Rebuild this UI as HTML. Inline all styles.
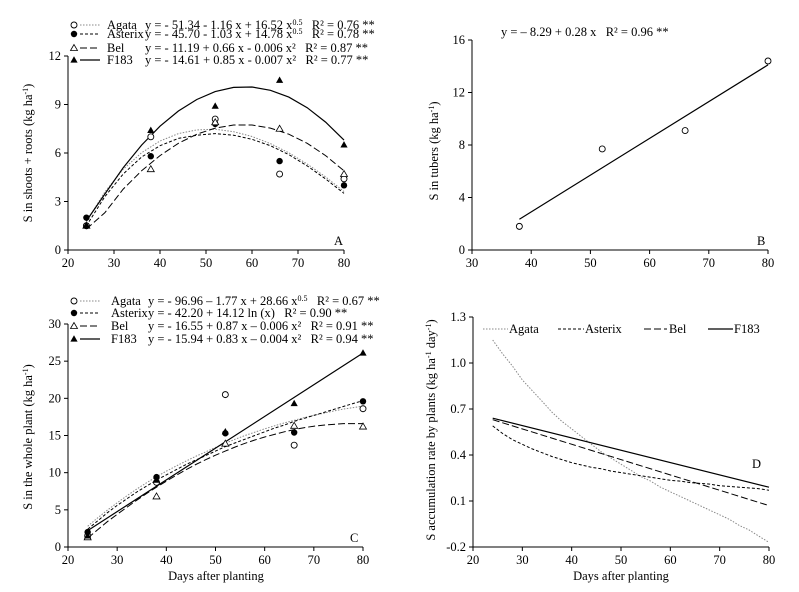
<!DOCTYPE html>
<html><head><meta charset="utf-8"><style>
body{margin:0;background:#fff;}
svg{display:block;}
text{fill:#000;font-family:"Liberation Serif",serif;white-space:pre;}
</style></head><body>
<svg id="c" width="799" height="592" xmlns="http://www.w3.org/2000/svg"></svg>
<script>
const days = [24, 38, 52, 66, 80];
const aAgata = [1.5, 7.0, 8.1, 4.7, 4.4];
const aAsterix = [2.0, 5.8, 7.8, 5.5, 4.0];
const aBel = [1.5, 5.0, 7.9, 7.5, 4.7];
const aF183 = [1.5, 7.4, 8.9, 10.5, 6.5];
const bDays = [38, 52, 66, 80];
const bTubers = [1.8, 7.7, 9.1, 14.4];
const cAgata = [1.5, 8.7, 20.5, 13.7, 18.6];
const cAsterix = [2.0, 9.4, 15.3, 15.4, 19.6];
const cBel = [1.3, 6.8, 13.9, 16.3, 16.2];
const cF183 = [1.5, 9.0, 15.5, 19.3, 26.1];
const aCurveX = [24,28,32,36,40,44,48,52,56,60,64,68,72,76,80];
const aCurveAgata = [1.75,3.59,4.99,6.02,6.74,7.2,7.43,7.47,7.32,7.02,6.58,6.01,5.32,4.52,3.62];
const aCurveAsterix = [1.5,3.3,4.7,5.75,6.45,6.9,7.1,7.2,7.1,6.85,6.45,5.9,5.2,4.4,3.5];
const aCurveBel = [1.3,2.3,3.77,4.9,5.84,6.6,7.16,7.54,7.73,7.73,7.54,7.16,6.6,5.84,4.9];
const aCurveF183 = [1.8,3.46,5.09,6.49,7.66,8.6,9.31,9.8,10.06,10.08,9.88,9.46,8.8,7.91,6.8];
const curveX = [24,26,28,30,32,34,36,38,40,42,44,46,48,50,52,54,56,58,60,62,64,66,68,70,72,74,76,78,80];
const bLineX = [38, 80];
const bLineY = [2.35, 14.1];
const cCurveAgata = [2.8,3.9,4.95,5.95,6.9,7.8,8.65,9.45,10.2,10.9,11.55,12.2,12.8,13.4,13.95,14.5,15.0,15.45,15.9,16.3,16.7,17.05,17.4,17.7,18.0,18.3,18.55,18.75,18.95];
const cCurveAsterix = [2.4,3.5,4.6,5.6,6.5,7.4,8.2,9.0,9.7,10.4,11.1,11.7,12.3,12.9,13.5,14.0,14.5,15.0,15.5,16.0,16.4,16.9,17.3,17.7,18.1,18.5,18.9,19.3,19.7];
const cCurveBel = [1.2,2.3,3.4,4.4,5.35,6.3,7.2,8.05,8.85,9.65,10.4,11.1,11.75,12.35,12.9,13.45,13.95,14.4,14.8,15.15,15.5,15.8,16.05,16.25,16.4,16.5,16.6,16.6,16.6];
const cLineX = [24, 80];
const cLineF183 = [2.2, 26.1];
const dAgata = [1.15,1.06,0.98,0.89,0.82,0.75,0.68,0.62,0.57,0.52,0.47,0.42,0.38,0.34,0.30,0.26,0.23,0.19,0.16,0.13,0.10,0.07,0.04,0.01,-0.02,-0.06,-0.09,-0.13,-0.17];
const dAsterix = [0.59,0.54,0.50,0.47,0.44,0.415,0.39,0.37,0.35,0.335,0.32,0.31,0.295,0.285,0.275,0.265,0.255,0.245,0.235,0.23,0.22,0.215,0.21,0.2,0.195,0.19,0.185,0.18,0.17];
const dBelX = [24, 80];
const dBel = [0.63, 0.07];
const dF183X = [24, 80];
const dF183 = [0.64, 0.19];
const xTicksA = [20,30,40,50,60,70,80];
const xTicksB = [30,40,50,60,70,80];
const yTicksA = [0,3,6,9,12];
const yTicksB = [0,4,8,12,16];
const yTicksC = [0,5,10,15,20,25,30];
const yTicksD = [-0.2,0.1,0.4,0.7,1.0,1.3];

const svg = document.getElementById('c');
const NS = 'http://www.w3.org/2000/svg';
function mk(tag, attrs, parent){const e=document.createElementNS(NS,tag);for(const k in attrs)e.setAttribute(k,attrs[k]);(parent||svg).appendChild(e);return e;}
function txt(s, x, y, attrs, parent){const t=mk('text',Object.assign({x:x,y:y,'font-size':12.5},attrs||{}),parent);t.innerHTML=s;return t;}

const styles = {
  agata:{stroke:'#888','stroke-dasharray':'1.5,1.5','stroke-width':1},
  asterix:{stroke:'#000','stroke-dasharray':'3,2','stroke-width':1},
  bel:{stroke:'#000','stroke-dasharray':'7,3','stroke-width':1},
  f183:{stroke:'#000','stroke-width':1.2}
};

function panel(name, x0,x1,xmin,xmax, y0,y1,ymin,ymax, xticks,yticks,dec){
  const g = mk('g',{});
  
  
  const sx = v=>x0+(v-xmin)/(xmax-xmin)*(x1-x0);
  const sy = v=>y0-(v-ymin)/(ymax-ymin)*(y0-y1);
  const ax = mk('line',{x1:x0,y1:y0,x2:x1,y2:y0,stroke:'#000'},g);
  
  
  const ay = mk('line',{x1:x0,y1:y0,x2:x0,y2:y1,stroke:'#000'},g);
  
  
  xticks.forEach(t=>{const X=sx(t);mk('line',{x1:X,y1:y0,x2:X,y2:y0+4,stroke:'#000'},g);
    const l=txt(String(t),X,y0+17,{'text-anchor':'middle'},g);
    
    });
  yticks.forEach(t=>{const Y=sy(t);mk('line',{x1:x0-4,y1:Y,x2:x0,y2:Y,stroke:'#000'},g);
    const l=txt(dec?t.toFixed(1):String(t),x0-7,Y+4,{'text-anchor':'end'},g);
    
    });
  return {g,sx,sy};
}
function curve(p, xs, ys, st, nm){
  const d = xs.map((x,i)=>(i?'L':'M')+p.sx(x).toFixed(1)+','+p.sy(ys[i]).toFixed(1)).join('');
  const e = mk('path',Object.assign({d:d,fill:'none'},st),p.g);
  
  
}
function marker(g, type, X, Y, nm){
  let e;
  if(type==='oc') e=mk('circle',{cx:X,cy:Y,r:3,fill:'#fff',stroke:'#000','stroke-width':0.9},g);
  else if(type==='fc') e=mk('circle',{cx:X,cy:Y,r:3.2,fill:'#000'},g);
  else if(type==='ot') e=mk('polygon',{points:`${X},${Y-3.5} ${X-3.5},${Y+2.5} ${X+3.5},${Y+2.5}`,fill:'#fff',stroke:'#000','stroke-width':0.8},g);
  else e=mk('polygon',{points:`${X},${Y-3.8} ${X-3.6},${Y+2.6} ${X+3.6},${Y+2.6}`,fill:'#000'},g);
  
  
}
function points(p, xs, ys, type, nm){ xs.forEach((x,i)=>marker(p.g,type,p.sx(x),p.sy(ys[i]),nm)); }
function ylabel(s, x, y){ const t=txt(s,x,y,{'text-anchor':'middle',transform:`rotate(-90 ${x} ${y})`});   }
function xlabel(s, x, y){ const t=txt(s,x,y,{'text-anchor':'middle'});   }
function legendRow(y, type, st, label, eq, lx, ex, nm){
  const g=mk('g',{});
  
  
  marker(g,type,74,y-4,'legend-marker');
  mk('line',Object.assign({x1:80,y1:y-4,x2:100,y2:y-4},st),g);
  txt(label,lx,y,{},g);
  txt(eq,ex,y,{},g);
}
const sup = s=>`<tspan dy="-4" font-size="8">${s}</tspan>`;

// Panel A
const A = panel('a',68,344,20,80,250,56,0,12,xTicksA,yTicksA,false);
curve(A,aCurveX,aCurveAgata,styles.agata,'curve-agata');
curve(A,aCurveX,aCurveAsterix,styles.asterix,'curve-asterix');
curve(A,aCurveX,aCurveBel,styles.bel,'curve-bel');
curve(A,aCurveX,aCurveF183,styles.f183,'curve-f183');
points(A,days,aAgata,'oc','point-agata');
points(A,days,aAsterix,'fc','point-asterix');
points(A,days,aBel,'ot','point-bel');
points(A,days,aF183,'ft','point-f183');
legendRow(29,'oc',styles.agata,'Agata','y = - 51.34 - 1.16 x + 16.52 x'+sup('0.5')+'<tspan dy="4">   R² = 0.76 **</tspan>',107,145,'legend-agata-a');
legendRow(38,'fc',styles.asterix,'Asterix','y = - 45.70 - 1.03 x + 14.78 x'+sup('0.5')+'<tspan dy="4">   R² = 0.78 **</tspan>',107,145,'legend-asterix-a');
legendRow(52,'ot',styles.bel,'Bel','y = - 11.19 + 0.66 x - 0.006 x²   R² = 0.87 **',107,145,'legend-bel-a');
legendRow(64,'ft',styles.f183,'F183','y = - 14.61 + 0.85 x - 0.007 x²   R² = 0.77 **',107,145,'legend-f183-a');
txt('A',334,245,{});
ylabel('S in shoots + roots (kg ha'+sup('-1')+'<tspan dy="4">)</tspan>',32,153);

// Panel B
const B = panel('b',472,768,30,80,250,40,0,16,xTicksB,yTicksB,false);
curve(B,bLineX,bLineY,styles.f183,'fit-line-tubers');
points(B,bDays,bTubers,'oc','point-tubers');
txt('y = – 8.29 + 0.28 x   R² = 0.96 **',501,36,{});
txt('B',757,245,{});
ylabel('S in tubers (kg ha'+sup('-1')+'<tspan dy="4">)</tspan>',438,151);

// Panel C
const C = panel('c',68,363,20,80,547,324,0,30,xTicksA,yTicksC,false);
curve(C,curveX,cCurveAgata,styles.agata,'curve-agata');
curve(C,curveX,cCurveAsterix,styles.asterix,'curve-asterix');
curve(C,curveX,cCurveBel,styles.bel,'curve-bel');
curve(C,cLineX,cLineF183,styles.f183,'curve-f183');
points(C,days,cAgata,'oc','point-agata');
points(C,days,cAsterix,'fc','point-asterix');
points(C,days,cBel,'ot','point-bel');
points(C,days,cF183,'ft','point-f183');
legendRow(305,'oc',styles.agata,'Agata','y = - 96.96 – 1.77 x + 28.66 x'+sup('0.5')+'<tspan dy="4">   R² = 0.67 **</tspan>',111,148,'legend-agata-c');
legendRow(317,'fc',styles.asterix,'Asterix','y = - 42.20 + 14.12 ln (x)   R² = 0.90 **',111,148,'legend-asterix-c');
legendRow(330,'ot',styles.bel,'Bel','y = - 16.55 + 0.87 x – 0.006 x²   R² = 0.91 **',111,148,'legend-bel-c');
legendRow(343,'ft',styles.f183,'F183','y = - 15.94 + 0.83 x – 0.004 x²   R² = 0.94 **',111,148,'legend-f183-c');
txt('C',350,542,{});
ylabel('S in the whole plant (kg ha'+sup('-1')+'<tspan dy="4">)</tspan>',32,437);
xlabel('Days after planting',216,580);

// Panel D
const D = panel('d',473,769,20,80,547,317,-0.2,1.3,xTicksA,yTicksD,true);
curve(D,curveX,dAgata,styles.agata,'curve-agata');
curve(D,curveX,dAsterix,styles.asterix,'curve-asterix');
curve(D,dBelX,dBel,styles.bel,'curve-bel');
curve(D,dF183X,dF183,styles.f183,'curve-f183');
[[483,507,'Agata',styles.agata],[558,583,'Asterix',styles.asterix],[644,667,'Bel',styles.bel],[708,732,'F183',styles.f183]].forEach(([a,b,l,st])=>{
  const g=mk('g',{});
  
  
  mk('line',Object.assign({x1:a,y1:329,x2:b+(l==='Bel'?0:1),y2:329},st),g);
  txt(l,b+2,333,{},g);
});
txt('D',752,468,{});
ylabel('S accumulation rate by plants (kg ha'+sup('-1')+'<tspan dy="4"> day</tspan>'+sup('-1')+'<tspan dy="4">)</tspan>',435,430);
xlabel('Days after planting',621,580);
</script>
</body></html>
